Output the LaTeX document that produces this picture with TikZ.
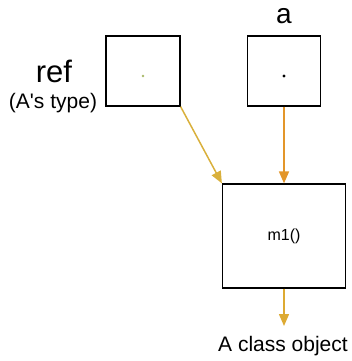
\documentclass[tikz,border=0pt]{standalone}
\usepackage{fontspec}
\setmainfont{Liberation Sans}
\usetikzlibrary{arrows.meta}
\definecolor{refarr}{HTML}{D9B03C}
\definecolor{aarr}{HTML}{E3962A}
\definecolor{outarr}{HTML}{DDAA33}
\definecolor{refdot}{HTML}{A8B868}
\begin{document}
\begin{tikzpicture}[x=1pt,y=-1pt,
  box/.style={draw=black,line width=1.2pt,inner sep=0pt},
  conn/.style={line width=1.5pt,-{Triangle[length=12pt,width=10pt]}}]
\useasboundingbox (0,0) rectangle (351,361);
\node[box,minimum width=74pt,minimum height=70pt] (ref) at (143,71) {};
\node[box,minimum width=73pt,minimum height=70pt] (a) at (284,71) {};
\node[box,minimum width=123pt,minimum height=104pt] (obj) at (284,236) {};
\fill[refdot] (ref.center) ++(0,5) circle (1.4pt);
\fill[black] (a.center) ++(0,5) circle (1.6pt);
\node[font=\fontsize{16}{18}\selectfont] (m1) at (284,236) {m1()};
\node[font=\fontsize{31}{34}\selectfont] (reflbl) at (54,71) {ref};
\node[font=\fontsize{21}{24}\selectfont] (reftype) at (53,103) {(A\textquotesingle s type)};
\node[font=\fontsize{28}{32}\selectfont] (albl) at (284,16) {a};
\node[font=\fontsize{21}{24}\selectfont] (cls) at (283,346) {A class object};
\coordinate (outend) at (284,326);
\draw[conn,refarr] (ref.south east) -- (obj.north west);
\draw[conn,aarr] (a.south) -- (a.south |- obj.north);
\draw[conn,outarr] (obj.south) -- (outend);
\end{tikzpicture}
\end{document}
